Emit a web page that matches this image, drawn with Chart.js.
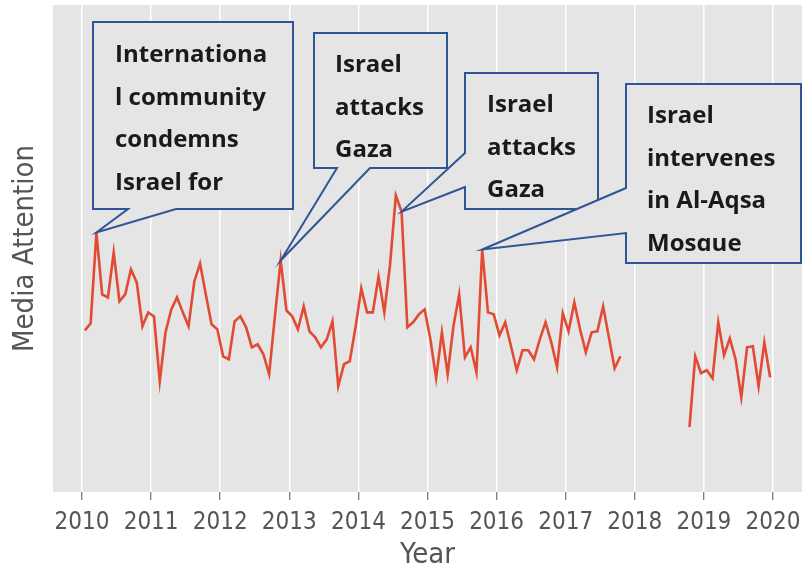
<!DOCTYPE html>
<html>
<head>
<meta charset="utf-8">
<script src="https://cdn.jsdelivr.net/npm/chart.js@4/dist/chart.umd.min.js"></script>
<style>
  html, body { margin: 0; padding: 0; background: #fff; }
  #chart { display: block; }
</style>
</head>
<body>
<canvas id="chart" width="804" height="571"></canvas>
<script>
// monthly media attention, Jan..Dec of each year (null = no data)
const years = [2010, 2011, 2012, 2013, 2014, 2015, 2016, 2017, 2018, 2019];
const att2010 = [162, 169, 260, 198, 195, 240, 191, 198, 223, 210, 166, 180];
const att2011 = [176, 111, 160, 183, 195, 180, 166, 211, 229, 198, 168, 163];
const att2012 = [136, 133, 171, 176, 165, 145, 148, 138, 118, 176, 232, 182];
const att2013 = [176, 163, 186, 161, 155, 145, 153, 171, 106, 128, 131, 165];
const att2014 = [204, 180, 180, 216, 180, 228, 297, 281, 165, 170, 178, 183];
const att2015 = [153, 114, 160, 118, 166, 198, 135, 145, 120, 243, 180, 178];
const att2016 = [157, 170, 146, 122, 142, 142, 133, 153, 170, 150, 125, 179];
const att2017 = [161, 190, 163, 140, 160, 161, 186, 155, 124, 136, null, null];
const att2018 = [null, null, null, null, null, null, null, null, null, 65, 136, 119];
const att2019 = [122, 114, 170, 137, 154, 133, 95, 145, 146, 106, 150, 115];

const tickYears = [2010, 2011, 2012, 2013, 2014, 2015, 2016, 2017, 2018, 2019, 2020];

const byYear = [att2010, att2011, att2012, att2013, att2014, att2015, att2016, att2017, att2018, att2019];
const points = [];
years.forEach((yr, k) => {
    byYear[k].forEach((v, m) => points.push({ x: yr + (m + 0.5) / 12, y: v }));
});

// callouts: "at" is the index of the point the pointer touches
const callouts = [
    { at: 2, lines: ['Internationa', 'l community', 'condemns', 'Israel for'],
      box: { l: 93, t: 22, r: 293, b: 209 }, side: 'bottom', base: [128, 176],
      tx: 115, ty: 62, lh: 42.7 },
    { at: 34, lines: ['Israel', 'attacks', 'Gaza'],
      box: { l: 314, t: 33, r: 447, b: 168 }, side: 'bottom', base: [337, 370],
      tx: 335, ty: 72, lh: 42.5 },
    { at: 55, lines: ['Israel', 'attacks', 'Gaza'],
      box: { l: 465, t: 73, r: 598, b: 209 }, side: 'left', base: [153, 187],
      tx: 487, ty: 112, lh: 42.5 },
    { at: 69, lines: ['Israel', 'intervenes', 'in Al-Aqsa', 'Mosque'],
      box: { l: 626, t: 84, r: 801, b: 263 }, side: 'left', base: [188, 233],
      tx: 647, ty: 123, lh: 42.7, clip: 251 }
];

const plotBackground = {
    id: 'plotBackground',
    beforeDraw(chart) {
        const { ctx, chartArea: a } = chart;
        ctx.save();
        ctx.fillStyle = '#e5e5e5';
        ctx.fillRect(a.left, a.top, a.right - a.left, a.bottom - a.top);
        ctx.restore();
    }
};

const calloutPlugin = {
    id: 'callouts',
    afterDatasetsDraw(chart) {
        const { ctx, scales: { x, y } } = chart;
        callouts.forEach(c => {
            const p = points[c.at];
            const px = x.getPixelForValue(p.x);
            const py = y.getPixelForValue(p.y);
            const b = c.box;
            ctx.save();
            ctx.beginPath();
            ctx.moveTo(b.l, b.t);
            ctx.lineTo(b.r, b.t);
            ctx.lineTo(b.r, b.b);
            if (c.side === 'bottom') {
                ctx.lineTo(c.base[1], b.b);
                ctx.lineTo(px, py);
                ctx.lineTo(c.base[0], b.b);
                ctx.lineTo(b.l, b.b);
            } else {
                ctx.lineTo(b.l, b.b);
                ctx.lineTo(b.l, c.base[1]);
                ctx.lineTo(px, py);
                ctx.lineTo(b.l, c.base[0]);
            }
            ctx.closePath();
            ctx.fillStyle = '#e5e5e5';
            ctx.fill();
            ctx.lineWidth = 2;
            ctx.strokeStyle = '#2f5597';
            ctx.stroke();

            ctx.beginPath();
            ctx.rect(b.l + 2, b.t + 2, b.r - b.l - 4, (c.clip || b.b - 2) - b.t - 2);
            ctx.clip();
            ctx.font = 'bold 24px "Open Sans"';
            ctx.fillStyle = '#1a1a1a';
            ctx.textBaseline = 'alphabetic';
            c.lines.forEach((s, k) => ctx.fillText(s, c.tx, c.ty + k * c.lh));
            ctx.restore();
        });
    }
};

const axisFont = '"DejaVu Sans Condensed", "DejaVu Sans", sans-serif';

new Chart(document.getElementById('chart'), {
    type: 'line',
    data: {
        datasets: [{
            data: points,
            borderColor: '#e24a33',
            borderWidth: 2.6,
            pointRadius: 0,
            tension: 0,
            spanGaps: false
        }]
    },
    options: {
        responsive: false,
        animation: false,
        devicePixelRatio: 1,
        layout: { padding: { top: 5, right: 2, left: 0, bottom: 0 } },
        plugins: {
            legend: { display: false },
            tooltip: { enabled: false }
        },
        scales: {
            x: {
                type: 'linear',
                min: 2009.58,
                max: 2020.42,
                afterBuildTicks: axis => { axis.ticks = tickYears.map(v => ({ value: v })); },
                afterFit: axis => {
                    axis.height = 79;
                    // keep the plot full width; edge labels fit anyway
                    axis.paddingLeft = 0;
                    axis.paddingRight = 0;
                },
                border: { display: false },
                grid: {
                    color: '#ffffff',
                    lineWidth: 1.5,
                    tickColor: '#555555',
                    tickLength: 8,
                    tickWidth: 1
                },
                ticks: {
                    color: '#555555',
                    padding: 8,
                    maxRotation: 0,
                    autoSkip: false,
                    font: { family: axisFont, size: 24 },
                    callback: v => String(v)
                },
                title: {
                    display: true,
                    text: 'Year',
                    color: '#555555',
                    font: { family: axisFont, size: 29, lineHeight: 1.05 },
                    padding: { top: 0, bottom: 0 }
                }
            },
            y: {
                min: 0,
                max: 488,
                afterFit: axis => { axis.width = 53; },
                border: { display: false },
                grid: { display: false },
                ticks: { display: false },
                title: {
                    display: true,
                    text: 'Media Attention',
                    color: '#555555',
                    font: { family: axisFont, size: 29 },
                    padding: { top: 8, bottom: 0 }
                }
            }
        }
    },
    plugins: [plotBackground, calloutPlugin]
});
</script>
</body>
</html>
